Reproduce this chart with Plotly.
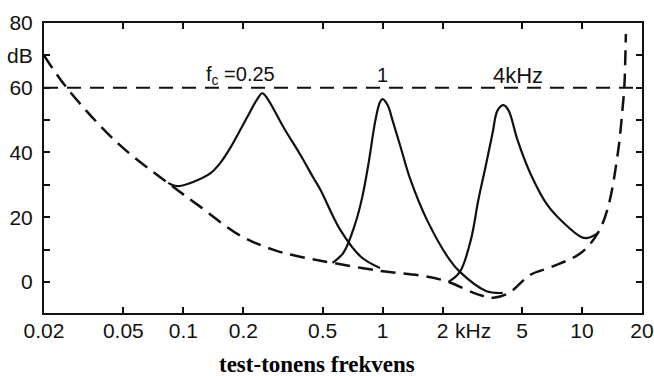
import math
import plotly.graph_objects as go

# ---- data (frequency in kHz, level in dB) ----
threshold_khz = [0.02, 0.026, 0.047, 0.084, 0.12, 0.193, 0.284, 0.39, 0.56, 0.97, 1.58, 2.14,
                 2.86, 3.3, 3.6, 4.3, 5.5, 7.0, 9.9, 12.0, 13.5, 15.2, 16.0, 16.3, 16.6]
threshold_db = [70, 60, 42.8, 30.5, 23.5, 14.3, 9.9, 7.7, 5.9, 3.4, 1.9, 0,
                -3.4, -4.6, -4.9, -3.4, 2.2, 4.6, 9, 15.1, 23, 40.7, 54, 60, 76.6]

mask025_khz = [0.084, 0.093, 0.112, 0.137, 0.153, 0.172, 0.209, 0.235, 0.249, 0.265, 0.318, 0.387,
               0.45, 0.488, 0.614, 0.78, 0.97]
mask025_db = [30.6, 29.6, 30.9, 33.6, 36.7, 41.4, 50.9, 56.5, 58.3, 56.5, 47.8, 39.2,
              32.1, 28.4, 16, 7.7, 4.3]

mask1_khz = [0.56, 0.635, 0.73, 0.79, 0.85, 0.92, 0.97, 1.0, 1.06, 1.12, 1.23, 1.38, 1.67, 2.17, 2.44, 3.3, 4.0]
mask1_db = [5.9, 9.0, 18.2, 26.2, 36.7, 50, 55.6, 56.5, 54.6, 50, 41.7, 31.5, 19.1, 6.8, 3.1, -2.8, -3.4]

mask4_khz = [2.14, 2.44, 2.77, 3.02, 3.28, 3.56, 3.77, 4.04, 4.28, 4.75, 5.5, 6.7, 8.1, 9.9, 10.7, 12.0]
mask4_db = [0, 3.1, 13, 25.3, 35.5, 46, 53, 54.6, 53, 43.8, 33.6, 23.8, 18.2, 13.9, 13.6, 15.1]

reference_khz = [0.02, 20]
reference_db = [60, 60]

x_tickvals = [0.02, 0.05, 0.1, 0.2, 0.5, 1, 2, 5, 10, 20]
x_ticktext = ["0.02", "0.05", "0.1", "0.2", "0.5", "1", "2", "5", "10", "20"]
y_tickvals = [0, 20, 40, 60, 70, 80]
y_ticktext = ["0", "20", "40", "60", "dB", "80"]

label_fc = "f<sub>c</sub> =0.25"
label_1 = "1"
label_4 = "4kHz"
x_title = "test-tonens frekvens"

FONT = "Liberation Sans, Arial, sans-serif"
INK = "#111111"
DASH = "15px,8px"

fig = go.Figure()
fig.add_trace(go.Scatter(x=reference_khz, y=reference_db, mode="lines",
                         line=dict(color=INK, width=1.8, dash="14px,9px")))
fig.add_trace(go.Scatter(x=threshold_khz, y=threshold_db, mode="lines",
                         line=dict(color=INK, width=2.5, dash=DASH, shape="spline", smoothing=1.0)))
for xs, ys in [(mask025_khz, mask025_db), (mask1_khz, mask1_db), (mask4_khz, mask4_db)]:
    fig.add_trace(go.Scatter(x=xs, y=ys, mode="lines",
                             line=dict(color=INK, width=2.2, shape="spline", smoothing=1.0)))

ann_font = dict(family=FONT, size=20, color=INK)
fig.add_annotation(x=math.log10(0.127), y=63.8, text=label_fc, showarrow=False,
                   xanchor="left", yanchor="middle", font=ann_font)
fig.add_annotation(x=math.log10(1.0), y=63.8, text=label_1, showarrow=False,
                   xanchor="center", yanchor="middle", font=ann_font)
fig.add_annotation(x=math.log10(4.75), y=63.8, text=label_4, showarrow=False,
                   xanchor="center", yanchor="middle", font=dict(family=FONT, size=22, color=INK))
fig.add_annotation(x=math.log10(2.25), y=-0.062, yref="paper", text="kHz", showarrow=False,
                   xanchor="left", yanchor="middle", font=dict(family=FONT, size=21, color=INK))
fig.add_annotation(x=0.456, y=-0.178, xref="paper", yref="paper", text="<b>" + x_title + "</b>",
                   showarrow=False, xanchor="center", yanchor="middle",
                   font=dict(family="Liberation Serif, Times New Roman, serif", size=23, color="#000"))

fig.update_xaxes(type="log", range=[math.log10(0.02), math.log10(20)],
                 tickvals=x_tickvals, ticktext=x_ticktext,
                 ticks="inside", ticklen=6, tickwidth=2, tickcolor=INK,
                 showline=True, linecolor=INK, linewidth=2, mirror="ticks",
                 showgrid=False, zeroline=False, automargin=False,
                 tickfont=dict(family=FONT, size=21, color=INK), ticklabelstandoff=-2)
fig.update_yaxes(range=[-9.6, 80],
                 tickvals=y_tickvals, ticktext=y_ticktext,
                 ticks="inside", ticklen=6, tickwidth=2, tickcolor=INK,
                 minor=dict(ticks="inside", dtick=10, ticklen=6, tickwidth=2, tickcolor=INK),
                 showline=True, linecolor=INK, linewidth=2, mirror="ticks",
                 showgrid=False, zeroline=False, automargin=False,
                 tickfont=dict(family=FONT, size=21, color=INK), ticklabelstandoff=5)

fig.update_layout(width=654, height=376, margin=dict(l=44, r=12, t=23, b=63),
                  paper_bgcolor="white", plot_bgcolor="white", showlegend=False)

fig.write_html("out.html")
